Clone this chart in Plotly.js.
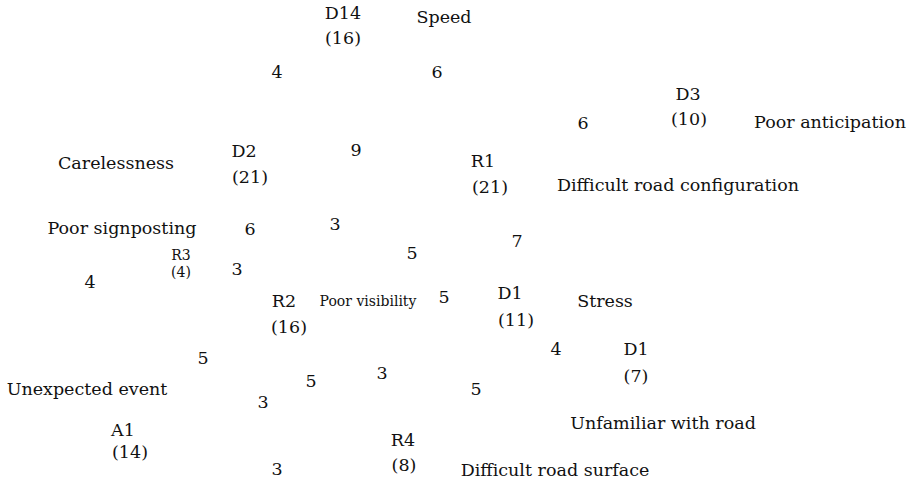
<!DOCTYPE html>
<html>
<head>
<meta charset="utf-8">
<script src="https://cdn.plot.ly/plotly-3.0.1.min.js"></script>
<style>html,body{margin:0;padding:0;background:#fff;}#chart{width:919px;height:483px;}</style>
</head>
<body>
<div id="chart"></div>
<script>
// Node codes with their counts (two-line labels)
const nodeCodes  = ["D14", "D3", "D2", "R1", "R2", "D1", "D1", "A1", "R4"];
const nodeCounts = ["(16)", "(10)", "(21)", "(21)", "(16)", "(11)", "(7)", "(14)", "(8)"];
const nodeCodeX  = [343, 688, 244, 483, 284, 510, 636, 123, 403];
const nodeCodeY  = [13, 94, 151, 161, 301, 293, 349, 430, 440];
const nodeCountX = [343, 689, 250, 490, 289, 516, 636, 130, 404];
const nodeCountY = [38, 119, 177, 187, 327, 320, 376, 452, 465];

// Small node and small factor label (smaller font)
const smallCodes = ["R3", "(4)", "Poor visibility"];
const smallX     = [181, 181, 368];
const smallY     = [254, 271, 300];

// Factor names
const factors = ["Speed", "Poor anticipation", "Carelessness", "Difficult road configuration",
  "Poor signposting", "Stress", "Unexpected event", "Unfamiliar with road", "Difficult road surface"];
const factorX = [444, 830, 116, 678, 122, 605, 87, 663, 555];
const factorY = [17, 122, 163, 185, 228, 301, 389, 423, 470];

// Link weights
const weights = ["4", "6", "6", "9", "6", "3", "5", "7", "4", "3", "5", "4", "5", "5", "3", "3", "5", "3"];
const weightX = [277, 437, 583, 356, 250, 335, 412, 517, 90, 237, 444, 556, 203, 311, 382, 263, 476, 277];
const weightY = [72, 72, 123, 150, 229, 224, 253, 241, 282, 269, 297, 349, 358, 381, 373, 402, 389, 469];

const FONT = "DejaVu Serif";
const big = {family: FONT, size: 17.5, color: "#111"};
const small = {family: FONT, size: 14, color: "#111"};

function txt(t, x, y, font) {
  return {type: "scatter", mode: "text", x: x, y: y, text: t, textposition: "middle center",
    textfont: font, hoverinfo: "none", showlegend: false, cliponaxis: false};
}

const traces = [
  txt(nodeCodes, nodeCodeX, nodeCodeY, big),
  txt(nodeCounts, nodeCountX, nodeCountY, big),
  txt(smallCodes, smallX, smallY, small),
  txt(factors, factorX, factorY, big),
  txt(weights, weightX, weightY, big)
];

const layout = {
  width: 919, height: 483,
  margin: {l: 0, r: 0, t: 0, b: 0},
  paper_bgcolor: "#ffffff", plot_bgcolor: "#ffffff",
  xaxis: {range: [0, 919], visible: false, fixedrange: true},
  yaxis: {range: [481, -2], visible: false, fixedrange: true},
  showlegend: false
};

Plotly.newPlot("chart", traces, layout, {staticPlot: true});
</script>
</body>
</html>
